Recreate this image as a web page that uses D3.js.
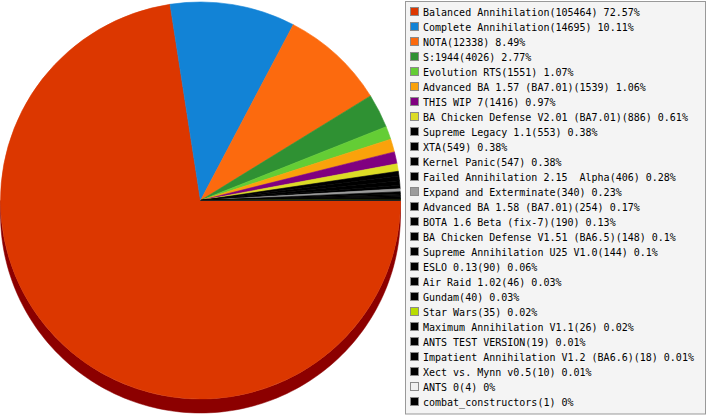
<!DOCTYPE html>
<html>
<head>
<meta charset="utf-8">
<script src="https://cdn.jsdelivr.net/npm/d3@7"></script>
<style>
  html, body { margin: 0; padding: 0; background: #fff; }
  svg { display: block; }
  text { font-family: "DejaVu Sans Mono", monospace; font-size: 10px; white-space: pre; }
</style>
</head>
<body>
<svg id="chart" width="707" height="415"></svg>
<script>
const categories = [
  "Balanced Annihilation", "Complete Annihilation", "NOTA", "S:1944", "Evolution RTS",
  "Advanced BA 1.57 (BA7.01)", "THIS WIP 7", "BA Chicken Defense V2.01 (BA7.01)",
  "Supreme Legacy 1.1", "XTA", "Kernel Panic", "Failed Annihilation 2.15  Alpha",
  "Expand and Exterminate", "Advanced BA 1.58 (BA7.01)", "BOTA 1.6 Beta (fix-7)",
  "BA Chicken Defense V1.51 (BA6.5)", "Supreme Annihilation U25 V1.0", "ESLO 0.13",
  "Air Raid 1.02", "Gundam", "Star Wars", "Maximum Annihilation V1.1", "ANTS TEST VERSION",
  "Impatient Annihilation V1.2 (BA6.6)", "Xect vs. Mynn v0.5", "ANTS 0", "combat_constructors"
];
const values = [105464, 14695, 12338, 4026, 1551, 1539, 1416, 886, 553, 549, 547, 406, 340,
  254, 190, 148, 144, 90, 46, 40, 35, 26, 19, 18, 10, 4, 1];
const colors = ["#dc3700", "#1283d6", "#fc6a0e", "#2f9133", "#64cd35", "#faa20b", "#800080",
  "#dcdc26", "#000000", "#000000", "#000000", "#000000", "#9c9c9c", "#000000", "#000000",
  "#000000", "#000000", "#000000", "#000000", "#000000", "#b8dc00", "#000000", "#000000",
  "#000000", "#000000", "#f0f0f0", "#000000"];
const sideColors = ["#8c0000"];

const svg = d3.select("#chart");
const cx = 200.5, cy = 200.5, rx = 200, ry = 198.5, depth = 14;
const total = d3.sum(values);
const fmtPct = v => String(parseFloat((v / total * 100).toFixed(2))) + "%";

const data = categories.map((c, i) => ({ name: c, value: values[i], color: colors[i], i }));
const pie = d3.pie().sort(null).value(d => d.value).startAngle(Math.PI / 2).endAngle(Math.PI / 2 + 2 * Math.PI);
const arcs = pie(data);

// side (depth) of the 3D pie, front half only
const pt = (a, dy) => [cx + rx * Math.sin(a), cy - ry * Math.cos(a) + dy];
const sideG = svg.append("g");
arcs.forEach(a => {
  const lo = Math.max(a.startAngle, Math.PI / 2), hi = Math.min(a.endAngle, 3 * Math.PI / 2);
  if (hi <= lo) return;
  const n = 120;
  const angs = d3.range(n + 1).map(k => lo + (hi - lo) * k / n);
  const top = angs.map(t => pt(t, 0));
  const bot = angs.slice().reverse().map(t => pt(t, depth));
  const col = a.data.i === 0 ? sideColors[0] : d3.color(a.data.color).darker(1.3).formatHex();
  sideG.append("path")
    .attr("d", d3.line()(top.concat(bot)) + "Z")
    .attr("fill", col).attr("stroke", col).attr("stroke-width", 0.5);
});

// top face
const arc = d3.arc().innerRadius(0).outerRadius(rx);
svg.append("g")
  .attr("transform", `translate(${cx},${cy}) scale(1,${ry / rx})`)
  .selectAll("path").data(arcs).join("path")
  .attr("d", arc)
  .attr("fill", d => d.data.color)
  .attr("stroke", d => d.data.color)
  .attr("stroke-width", 0.6)
  .attr("stroke-linejoin", "round");

// legend
const lg = svg.append("g");
lg.append("rect").attr("x", 405.5).attr("y", 1.5).attr("width", 300).attr("height", 412.5)
  .attr("fill", "#f4f4f4").attr("stroke", "#999999");
const row = d3.scaleLinear().domain([0, 1]).range([16, 31]);
const items = lg.selectAll("g.item").data(data).join("g").attr("class", "item")
  .attr("transform", d => `translate(0,${row(d.i)})`);
items.append("rect").attr("x", 410.5).attr("y", -8.5).attr("width", 8).attr("height", 8)
  .attr("fill", d => d.color).attr("stroke", "#8a8a8a");
items.append("text").attr("x", 423).attr("y", 0).attr("fill", "#000")
  .text(d => `${d.name}(${d.value}) ${fmtPct(d.value)}`);
</script>
</body>
</html>
